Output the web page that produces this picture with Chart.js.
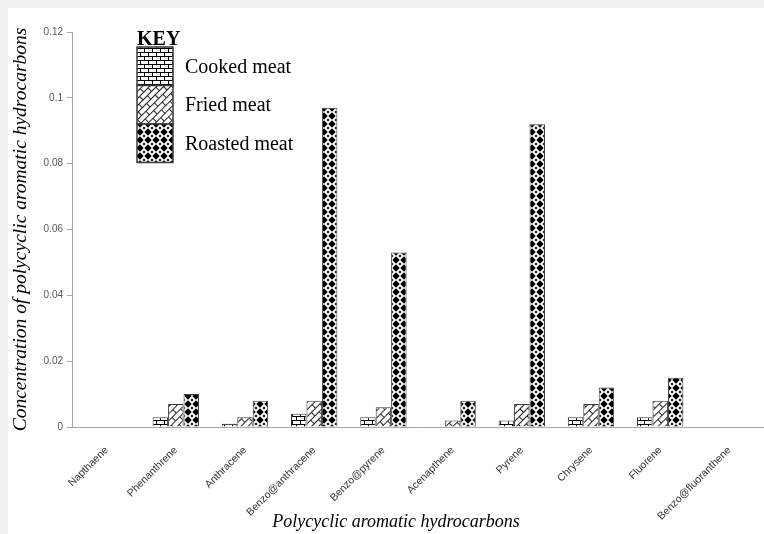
<!DOCTYPE html>
<html>
<head>
<meta charset="utf-8">
<script src="https://cdn.jsdelivr.net/npm/chart.js@4.4.1/dist/chart.umd.min.js"></script>
<style>
  html, body { margin: 0; padding: 0; background: #eef0f2; }
  #wrap { position: absolute; left: 8px; top: 8px; width: 756px; height: 526px; background: #fff; }
</style>
</head>
<body>
<div id="wrap"><canvas id="chart" width="756" height="526"></canvas></div>
<script>
// data
const categories = ['Napthaene', 'Phenanthrene', 'Anthracene', 'Benzo@anthracene', 'Benzo@pyrene',
  'Acenapthene', 'Pyrene', 'Chrysene', 'Fluorene', 'Benzo@fluoranthene'];
const cookedMeat  = [0, 0.003, 0.001, 0.004, 0.003, 0,     0.002, 0.003, 0.003, 0];
const friedMeat   = [0, 0.007, 0.003, 0.008, 0.006, 0.002, 0.007, 0.007, 0.008, 0];
const roastedMeat = [0, 0.010, 0.008, 0.097, 0.053, 0.008, 0.092, 0.012, 0.015, 0];
const yTicks = [0, 0.02, 0.04, 0.06, 0.08, 0.1, 0.12];

const canvas = document.getElementById('chart');
const ctx = canvas.getContext('2d');

// fill patterns
function tile(w, h, draw) {
  const c = document.createElement('canvas');
  c.width = w; c.height = h;
  const g = c.getContext('2d');
  g.fillStyle = '#fff';
  g.fillRect(0, 0, w, h);
  g.fillStyle = '#000';
  draw(g);
  return c;
}
function brick(g, w, h) {
  g.fillRect(0, 0, w, 1);
  g.fillRect(0, h / 2, w, 1);
  g.fillRect(0, 0, 1, h / 2);
  g.fillRect(w / 2, h / 2, 1, h / 2);
}
const cookedPattern = ctx.createPattern(tile(8, 8, g => brick(g, 8, 8)), 'repeat');
const friedPattern = ctx.createPattern(tile(12, 10, g => { g.fillStyle = '#222'; brick(g, 12, 10); }), 'repeat');
friedPattern.setTransform(new DOMMatrix().rotateSelf(-45));
const roastedPattern = ctx.createPattern(tile(8, 8, g => {
  g.beginPath();
  g.moveTo(4, 0.3); g.lineTo(7.7, 4); g.lineTo(4, 7.7); g.lineTo(0.3, 4);
  g.closePath(); g.fill();
  [[0, 0], [8, 0], [0, 8], [8, 8]].forEach(([x, y]) => {
    g.beginPath();
    g.moveTo(x, y - 1.5); g.lineTo(x + 1.5, y); g.lineTo(x, y + 1.5); g.lineTo(x - 1.5, y);
    g.closePath(); g.fill();
  });
}), 'repeat');

// the KEY box and the x title (sits left of the axis centre in the original)
const keyLegend = {
  id: 'keyLegend',
  afterDraw(chart) {
    const c = chart.ctx;
    const x = 129, top = 39, h = 38.5, w = 36;
    c.save();
    c.fillStyle = '#000';
    c.font = 'bold 20px "Liberation Serif"';
    c.textBaseline = 'alphabetic';
    c.fillText('KEY', x, top - 2);
    chart.data.datasets.forEach((ds, i) => {
      const y = top + i * h;
      c.fillStyle = ds.backgroundColor;
      c.fillRect(x, y, w, h);
      c.strokeStyle = '#3a3a3a';
      c.lineWidth = 1.5;
      c.strokeRect(x, y, w, h);
      c.fillStyle = '#000';
      c.font = '20px "Liberation Serif"';
      c.textBaseline = 'middle';
      c.fillText(ds.label, x + 48, y + h / 2 + 1);
    });
    c.font = 'italic 18px "Liberation Serif"';
    c.textAlign = 'center';
    c.textBaseline = 'middle';
    const xs = chart.scales.x;
    c.fillText('Polycyclic aromatic hydrocarbons', (xs.left + xs.right) / 2 - 22, 514);
    c.restore();
  }
};

new Chart(ctx, {
  type: 'bar',
  data: {
    labels: categories,
    datasets: [
      { label: 'Cooked meat', data: cookedMeat, backgroundColor: cookedPattern },
      { label: 'Fried meat', data: friedMeat, backgroundColor: friedPattern },
      { label: 'Roasted meat', data: roastedMeat, backgroundColor: roastedPattern }
    ]
  },
  options: {
    responsive: false,
    animation: false,
    layout: { padding: { top: 24, right: 0, left: 0, bottom: 0 } },
    datasets: {
      bar: {
        borderColor: '#3a3a3a',
        borderWidth: 1,
        barPercentage: 1,
        categoryPercentage: 0.67
      }
    },
    plugins: {
      legend: { display: false },
      tooltip: { enabled: false }
    },
    scales: {
      x: {
        afterFit: s => { s.height = 107; },
        grid: { display: false },
        border: { display: true, color: '#a6a6a6', width: 1 },
        ticks: {
          color: '#333',
          font: { family: '"Liberation Sans"', size: 10.5 },
          minRotation: 45,
          maxRotation: 45,
          padding: 9,
          autoSkip: false
        }
      },
      y: {
        min: 0,
        max: 0.12,
        afterFit: s => { s.width = 64; },
        afterBuildTicks: s => { s.ticks = yTicks.map(v => ({ value: v })); },
        grid: { drawOnChartArea: false, color: '#a6a6a6', tickLength: 5 },
        border: { display: true, color: '#a6a6a6', width: 1 },
        ticks: {
          color: '#595959',
          font: { family: '"Liberation Sans"', size: 10 },
          padding: 4,
          callback: v => String(Math.round(v * 100) / 100)
        },
        title: {
          display: true,
          text: 'Concentration of polycyclic aromatic hydrocarbons',
          color: '#000',
          font: { family: '"Liberation Serif"', size: 19.5, style: 'italic' },
          padding: { top: 1, bottom: 0 }
        }
      }
    }
  },
  plugins: [keyLegend]
});
</script>
</body>
</html>
